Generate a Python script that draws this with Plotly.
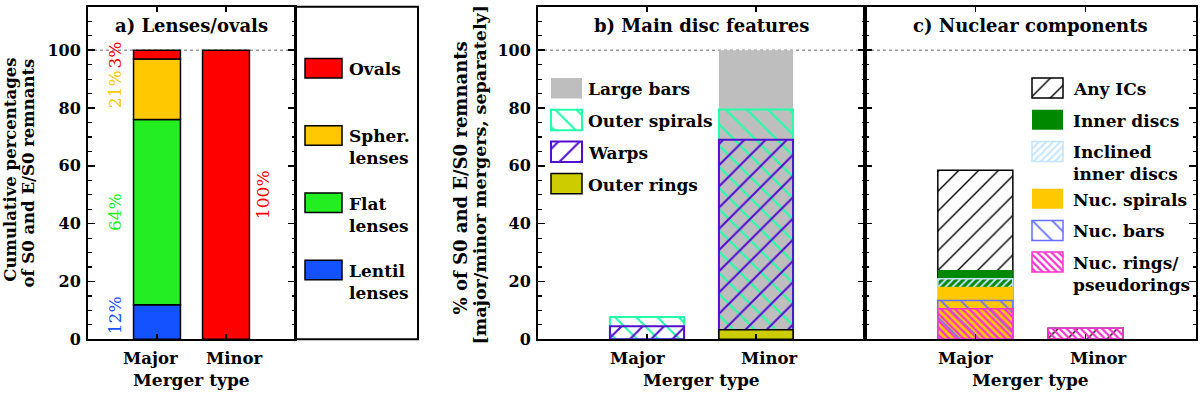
import plotly.graph_objects as go

W, H = 1200, 402
FONT = "DejaVu Serif"

# ---------------- data ----------------
categories = ["Major", "Minor"]
cat_pos = [1, 2]

# a) Lenses/ovals (cumulative, stacked bottom -> top)
lens_names = ["Lentil lenses", "Flat lenses", "Spher. lenses", "Ovals"]
lens_legend = ["Lentil\nlenses", "Flat\nlenses", "Spher.\nlenses", "Ovals"]
lens_major = [12, 64, 21, 3]
lens_minor = [0, 0, 0, 100]

# b) Main disc features (separately, overlaid)
disc_names = ["Large bars", "Outer spirals", "Warps", "Outer rings"]
disc_major = [0, 7.7, 4.5, 0]
disc_minor = [100, 79.5, 69, 3.3]

# c) Nuclear components (separately, overlaid)
nuc_names = ["Any ICs", "Inner discs", "Inclined\ninner discs", "Nuc. spirals",
             "Nuc. bars", "Nuc. rings/\npseudorings"]
nuc_major = [58.5, 24, 21, 18.2, 13.4, 10.6]
nuc_minor = [3.8, 0, 0, 0, 0, 3.8]

y_ticks = [0, 20, 40, 60, 80, 100]

# ---------------- styles ----------------
lens_style = [
    dict(color="#1452FF"), dict(color="#22EE22"),
    dict(color="#FFC800"), dict(color="#FF0000"),
]
disc_style = [
    dict(color="#BEBEBE", line=("#BEBEBE", 0), pattern=None),
    dict(color="rgba(0,0,0,0)", line=("#22FFAA", 2), pattern=dict(shape="\\", fgcolor="#22FFAA", size=15, solidity=0.14)),
    dict(color="rgba(0,0,0,0)", line=("#5010CC", 2), pattern=dict(shape="/", fgcolor="#5010CC", size=15, solidity=0.14)),
    dict(color="#CCCC00", line=("black", 1.5), pattern=None),
]
nuc_style = [
    dict(color="rgba(0,0,0,0)", line=("black", 1.5), pattern=dict(shape="/", fgcolor="black", size=14, solidity=0.1)),
    dict(color="#008800", line=("#008800", 0), pattern=None),
    dict(color="rgba(0,0,0,0)", line=("#C4E4FF", 1.5), pattern=dict(shape="/", fgcolor="#C4E4FF", size=5, solidity=0.4)),
    dict(color="#FFC800", line=("#FFC800", 0), pattern=None),
    dict(color="rgba(0,0,0,0)", line=("#6470FF", 1.5), pattern=dict(shape="\\", fgcolor="#6470FF", size=14, solidity=0.13)),
    dict(color="rgba(0,0,0,0)", line=("#FF33CC", 1.5), pattern=dict(shape="\\", fgcolor="#FF33CC", size=5, solidity=0.45)),
]

BAR_W = 0.68
fig = go.Figure()


def nz(vals):
    return [v if v else None for v in vals]


def marker_of(st):
    m = dict(color=st["color"], line=dict(color=st["line"][0], width=st["line"][1]))
    if st.get("pattern"):
        p = dict(st["pattern"])
        p["fillmode"] = "replace"
        p["bgcolor"] = "rgba(0,0,0,0)"
        m["pattern"] = p
    return m


# panel a: stacked
cum_maj, cum_min = 0, 0
bases_major, bases_minor = [], []
for i, name in enumerate(lens_names):
    bases_major.append(cum_maj)
    bases_minor.append(cum_min)
    fig.add_trace(go.Bar(
        x=cat_pos, y=nz([lens_major[i], lens_minor[i]]), base=[cum_maj, cum_min],
        width=BAR_W, name=name, xaxis="x", yaxis="y", showlegend=False,
        marker=dict(color=lens_style[i]["color"], line=dict(color="black", width=1.5))))
    cum_maj += lens_major[i]
    cum_min += lens_minor[i]

# panel b: overlaid
for i, name in enumerate(disc_names):
    fig.add_trace(go.Bar(
        x=cat_pos, y=nz([disc_major[i], disc_minor[i]]), width=BAR_W, name=name,
        xaxis="x2", yaxis="y2", showlegend=False, marker=marker_of(disc_style[i])))

# panel c: overlaid
for i, name in enumerate(nuc_names):
    fig.add_trace(go.Bar(
        x=cat_pos, y=nz([nuc_major[i], nuc_minor[i]]), width=BAR_W, name=name.replace("\n", " "),
        xaxis="x3", yaxis="y3", showlegend=False, marker=marker_of(nuc_style[i])))

annotations = []
shapes = []


def text(x, y, s, size=16, color="black", xref="x4", yref="y4", xanchor="center",
         yanchor="middle", angle=0, weight="bold", align="center"):
    annotations.append(dict(x=x, y=y, xref=xref, yref=yref, text=s, showarrow=False,
                            xanchor=xanchor, yanchor=yanchor, textangle=angle, align=align,
                            font=dict(family=FONT, size=size, color=color, weight=weight)))


# percentage labels panel a
for i in range(len(lens_names)):
    if lens_major[i]:
        yc = max(bases_major[i] + lens_major[i] / 2, 8.3)
        text(1 - 0.61, yc, f"{lens_major[i]}%", 17, lens_style[i]["color"], "x", "y", angle=-90, weight="normal")
    if lens_minor[i]:
        yc = bases_minor[i] + lens_minor[i] / 2
        text(2 + 0.54, yc, f"{lens_minor[i]}%", 17, lens_style[i]["color"], "x", "y", angle=-90, weight="normal")

# ---------------- axes ----------------
px = lambda x: x / W
py = lambda y: 1 - y / H
YDOM = [py(348), py(7)]
panels = [("x", "y", [px(88), px(295)], True, "a) Lenses/ovals"),
          ("x2", "y2", [px(538), px(865)], True, "b) Main disc features"),
          ("x3", "y3", [px(865), px(1196)], False, "c) Nuclear components")]

layout_axes = {}
for xa, ya, dom, lab, title in panels:
    xkey = "xaxis" + xa[1:]
    ykey = "yaxis" + ya[1:]
    layout_axes[xkey] = dict(domain=dom, range=[0, 3], anchor=ya, tickmode="array", tickvals=cat_pos,
                             ticks="inside", ticklen=5, tickwidth=1.5, tickcolor="black",
                             showticklabels=False, showline=True, linewidth=2, linecolor="black",
                             mirror="ticks", showgrid=False, zeroline=False, fixedrange=True)
    layout_axes[ykey] = dict(domain=YDOM, range=[0, 115], anchor=xa, tickmode="array", tickvals=y_ticks,
                             ticks="inside", ticklen=7, tickwidth=1.5, tickcolor="black",
                             minor=dict(tickmode="linear", tick0=0, dtick=5, ticks="inside", ticklen=3.5,
                                        tickwidth=1.2, tickcolor="black"),
                             showticklabels=lab, tickfont=dict(family=FONT, size=16, color="black", weight="bold"),
                             ticklabelstandoff=2,
                             showline=True, linewidth=2, linecolor="black", mirror="ticks",
                             showgrid=False, zeroline=False, fixedrange=True)
    shapes.append(dict(type="line", xref=xa + " domain", x0=0, x1=1, yref=ya, y0=100, y1=100,
                       line=dict(color="#9A9A9A", width=1.5, dash="dot"), layer="below"))
    # category labels
    for c, p, sh in zip(categories, cat_pos, (-0.09, 0.12)):
        text(p + sh, 368, c, 16.5, xref=xa, yref="y4")
    text(0.5, 390, "Merger type", 17, xref=xa + " domain", yref="y4")
    text(0.5, 26, title, 18, xref=xa + " domain", yref="y4")

layout_axes["xaxis4"] = dict(domain=[0, 1], range=[0, W], visible=False, anchor="y4", fixedrange=True)
layout_axes["yaxis4"] = dict(domain=[0, 1], range=[H, 0], visible=False, anchor="x4", fixedrange=True)

# y-axis titles
text(11, 174, "Cumulative percentages", 16.5, angle=-90)
text(29, 178, "of S0 and E/S0 remnants", 16.5, angle=-90)
text(460, 183, "% of S0 and E/S0 remnants", 18, angle=-90)
text(480, 179, "[major/minor mergers, separately]", 17.5, angle=-90)

# legend panel frame for a)
shapes.append(dict(type="rect", xref="x4", yref="y4", x0=295, x1=418, y0=7, y1=348,
                   line=dict(color="black", width=2), layer="above"))

LEG_FS = 17
LINE_H = LEG_FS * 1.3


def legend_block(labels, styles, left, w, h, first_center, step, text_x, extra=0, outline=None):
    yc = first_center
    for lab, st in zip(labels, styles):
        m = marker_of(st) if outline is None else dict(color=st["color"], line=dict(color=outline, width=1.5))
        fig.add_trace(go.Bar(x=[left + w / 2], width=[w], base=[yc - h / 2], y=[h],
                             xaxis="x4", yaxis="y4", showlegend=False, marker=m, hoverinfo="skip"))
        lines = lab.split("\n")
        n = len(lines)
        text(text_x, yc + 1 + (n - 1) * LINE_H / 2, "<br>".join(lines), LEG_FS, xanchor="left", align="left")
        yc += step + extra * (n - 1)


legend_block(lens_legend[::-1], lens_style[::-1], 305, 37, 20, 70, 69, 347, outline="black")
legend_block(disc_names, disc_style, 551, 31, 21, 90.5, 32.6, 586)
legend_block(nuc_names, nuc_style, 1032, 31, 20.5, 90.3, 32.5, 1071, extra=16)

fig.update_layout(
    width=W, height=H, margin=dict(l=0, r=0, t=0, b=0),
    paper_bgcolor="white", plot_bgcolor="rgba(0,0,0,0)",
    barmode="overlay", showlegend=False,
    annotations=annotations, shapes=shapes,
    font=dict(family=FONT, size=16, color="black"),
    **layout_axes,
)

fig.write_html("out.html", config={"displayModeBar": False, "staticPlot": True},
               post_script="document.body.style.margin='0';document.body.style.padding='0';"
                           "document.body.style.overflow='hidden';")
